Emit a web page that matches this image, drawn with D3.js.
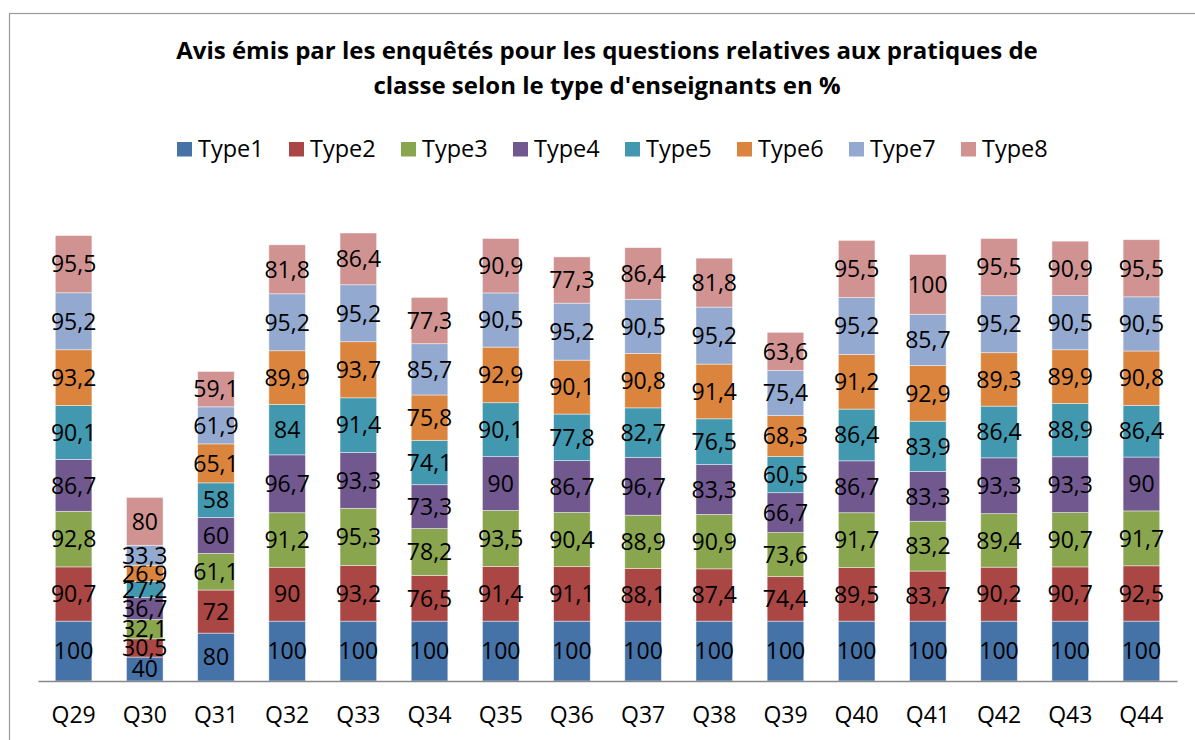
<!DOCTYPE html>
<html>
<head>
<meta charset="utf-8">
<script src="https://cdn.jsdelivr.net/npm/d3@7"></script>
<style>
  body { margin: 0; background: #fff; }
  svg { display: block; font-family: "Open Sans", sans-serif; }
</style>
</head>
<body>
<svg id="chart_svg" width="1195" height="740"></svg>
<script>
// categories (questions)
const categories = ["Q29", "Q30", "Q31", "Q32", "Q33", "Q34", "Q35", "Q36",
  "Q37", "Q38", "Q39", "Q40", "Q41", "Q42", "Q43", "Q44"];

const seriesNames = ["Type1", "Type2", "Type3", "Type4", "Type5", "Type6", "Type7", "Type8"];
const seriesColors = ["#4572A7", "#AA4643", "#89A54E", "#71588F", "#4198AF", "#DB843D", "#93A9CF", "#D19392"];

// values per series, one per question
const type1 = [100, 40, 80, 100, 100, 100, 100, 100, 100, 100, 100, 100, 100, 100, 100, 100];
const type2 = [90.7, 30.5, 72, 90, 93.2, 76.5, 91.4, 91.1, 88.1, 87.4, 74.4, 89.5, 83.7, 90.2, 90.7, 92.5];
const type3 = [92.8, 32.1, 61.1, 91.2, 95.3, 78.2, 93.5, 90.4, 88.9, 90.9, 73.6, 91.7, 83.2, 89.4, 90.7, 91.7];
const type4 = [86.7, 36.7, 60, 96.7, 93.3, 73.3, 90, 86.7, 96.7, 83.3, 66.7, 86.7, 83.3, 93.3, 93.3, 90];
const type5 = [90.1, 27.2, 58, 84, 91.4, 74.1, 90.1, 77.8, 82.7, 76.5, 60.5, 86.4, 83.9, 86.4, 88.9, 86.4];
const type6 = [93.2, 26.9, 65.1, 89.9, 93.7, 75.8, 92.9, 90.1, 90.8, 91.4, 68.3, 91.2, 92.9, 89.3, 89.9, 90.8];
const type7 = [95.2, 33.3, 61.9, 95.2, 95.2, 85.7, 90.5, 95.2, 90.5, 95.2, 75.4, 95.2, 85.7, 95.2, 90.5, 90.5];
const type8 = [95.5, 80, 59.1, 81.8, 86.4, 77.3, 90.9, 77.3, 86.4, 81.8, 63.6, 95.5, 100, 95.5, 90.9, 95.5];

const titleLines = [
  "Avis émis par les enquêtés pour les questions relatives aux pratiques de",
  "classe selon le type d'enseignants en %"
];

const seriesValues = [type1, type2, type3, type4, type5, type6, type7, type8];

// table for d3.stack
const table = categories.map((c, i) => {
  const row = { cat: c };
  seriesNames.forEach((s, k) => { row[s] = seriesValues[k][i]; });
  return row;
});

const svg = d3.select("#chart_svg");

// outer chart border (right/bottom edges fall outside the picture)
svg.append("rect")
  .attr("x", 9.5).attr("y", 13.5)
  .attr("width", 1200).attr("height", 740)
  .attr("fill", "none")
  .attr("stroke", "#9a9a9a")
  .attr("stroke-width", 1.2);

// title
svg.append("g").selectAll("text")
  .data(titleLines)
  .enter()
  .append("text")
  .attr("x", 607)
  .attr("y", (d, i) => 59 + i * 34.6)
  .attr("text-anchor", "middle")
  .attr("font-weight", "bold")
  .attr("font-size", "24px")
  .attr("fill", "#000")
  .text(d => d);

// legend
const legend = svg.append("g").attr("id", "g_legend");
const legendItem = legend.selectAll("g")
  .data(seriesNames)
  .enter()
  .append("g")
  .attr("transform", (d, i) => "translate(" + (177 + i * 112) + ",142)");

legendItem.append("rect")
  .attr("width", 15).attr("height", 14.5)
  .attr("fill", (d, i) => seriesColors[i]);

legendItem.append("text")
  .attr("x", 21)
  .attr("y", 15)
  .attr("font-size", "23.5px")
  .attr("fill", "#000")
  .text(d => d);

// scales
const xScale = d3.scaleBand()
  .domain(categories)
  .range([38, 1177])
  .paddingInner(0.486)
  .paddingOuter(0.243);

const yScale = d3.scaleLinear()
  .domain([0, 800])
  .range([681, 681 - 800 * 0.5985]);

const stacked = d3.stack().keys(seriesNames)(table);

const g_chart = svg.append("g").attr("id", "g_chart");

const layer = g_chart.selectAll(".layer")
  .data(stacked)
  .enter()
  .append("g")
  .attr("class", "layer")
  .attr("fill", (d, i) => seriesColors[i]);

layer.selectAll("rect")
  .data(d => d)
  .enter()
  .append("rect")
  .attr("x", d => xScale(d.data.cat))
  .attr("y", d => yScale(d[1]))
  .attr("width", xScale.bandwidth())
  .attr("height", d => yScale(d[0]) - yScale(d[1]))
  .attr("stroke", "#ffffff")
  .attr("stroke-opacity", 0.55)
  .attr("stroke-width", 0.8);

// data labels
const fmt = v => String(v).replace(".", ",");
layer.selectAll("text")
  .data(d => d.map(p => ({ p: p, key: d.key })))
  .enter()
  .append("text")
  .attr("x", d => xScale(d.p.data.cat) + xScale.bandwidth() / 2)
  .attr("y", d => (yScale(d.p[0]) + yScale(d.p[1])) / 2)
  .attr("dy", "0.36em")
  .attr("text-anchor", "middle")
  .attr("font-size", "23px")
  .attr("fill", "#000")
  .text(d => fmt(d.p.data[d.key]));

// x axis
const x_axis = d3.axisBottom(xScale).tickSize(0).tickPadding(0);
const g_x_axis = svg.append("g")
  .attr("id", "g_x_axis_chart")
  .attr("transform", "translate(0,681)")
  .call(x_axis);

g_x_axis.select(".domain")
  .attr("stroke", "#888888")
  .attr("stroke-width", 1.5);

g_x_axis.selectAll("text")
  .attr("y", 42)
  .attr("dy", 0)
  .attr("font-size", "23px")
  .attr("font-family", "'Open Sans', sans-serif")
  .attr("fill", "#000");
</script>
</body>
</html>
